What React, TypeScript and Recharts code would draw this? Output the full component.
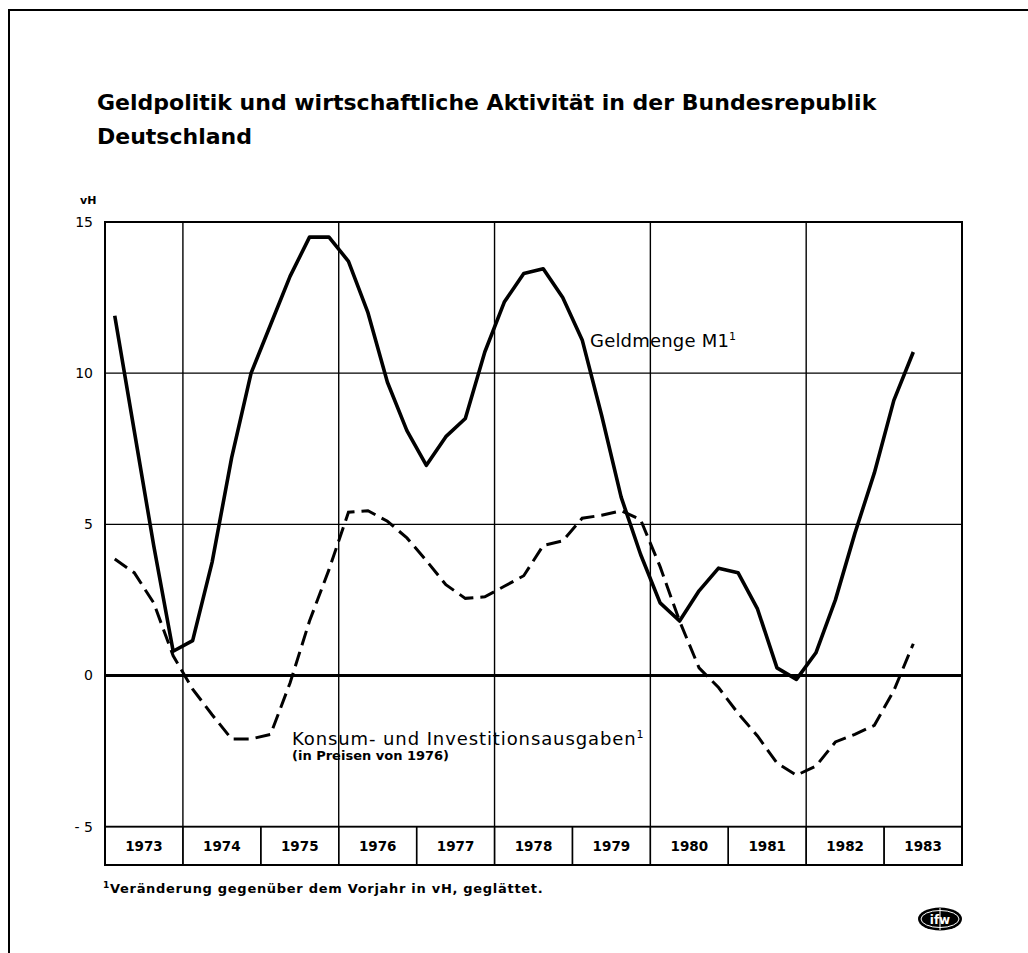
import React from 'react';
import { LineChart, Line, XAxis, YAxis, ReferenceLine, ReferenceArea } from 'recharts';

// quarter mid-points (1973 Q1 ... 1983 Q2)
const quarterTimes = [
  1973.125, 1973.375, 1973.625, 1973.875,
  1974.125, 1974.375, 1974.625, 1974.875,
  1975.125, 1975.375, 1975.625, 1975.875,
  1976.125, 1976.375, 1976.625, 1976.875,
  1977.125, 1977.375, 1977.625, 1977.875,
  1978.125, 1978.375, 1978.625, 1978.875,
  1979.125, 1979.375, 1979.625, 1979.875,
  1980.125, 1980.375, 1980.625, 1980.875,
  1981.125, 1981.375, 1981.625, 1981.875,
  1982.125, 1982.375, 1982.625, 1982.875,
  1983.125, 1983.375,
];

// Geldmenge M1, Veränderung gegenüber Vorjahr in vH
const geldmengeM1 = [
  11.9, 8.1, 4.3, 0.8,
  1.15, 3.75, 7.2, 10.0,
  11.6, 13.2, 14.5, 14.5,
  13.7, 12.0, 9.7, 8.1,
  6.95, 7.9, 8.5, 10.7,
  12.35, 13.3, 13.45, 12.5,
  11.1, 8.6, 5.9, 4.0,
  2.4, 1.8, 2.8, 3.55,
  3.4, 2.2, 0.25, -0.13,
  0.75, 2.5, 4.7, 6.7,
  9.1, 10.7,
];

// Konsum- und Investitionsausgaben (in Preisen von 1976)
const konsumInvest = [
  3.85, 3.4, 2.4, 0.65,
  -0.45, -1.3, -2.1, -2.1,
  -1.95, -0.25, 1.8, 3.5,
  5.4, 5.45, 5.1, 4.55,
  3.8, 3.0, 2.55, 2.6,
  2.95, 3.3, 4.3, 4.45,
  5.2, 5.3, 5.45, 5.15,
  3.6, 1.8, 0.25, -0.4,
  -1.25, -2.0, -2.9, -3.3,
  -3.0, -2.2, -1.95, -1.65,
  -0.5, 1.05,
];

const years = [1973, 1974, 1975, 1976, 1977, 1978, 1979, 1980, 1981, 1982, 1983];
const yearLabels = ['1973', '1974', '1975', '1976', '1977', '1978', '1979', '1980', '1981', '1982', '1983'];
const yTicks = [15, 10, 5, 0, -5];
const gridYears = [1974, 1976, 1978, 1980, 1982];
const gridValues = [10, 5];

const X_MIN = 1973;
const X_MAX = 1984;
const Y_TOP = 15;
const Y_AXIS_MIN = -5;
const Y_BAND = -6.27; // bottom of the year band

const data = quarterTimes.map((t, i) => ({ t, m1: geldmengeM1[i], konsum: konsumInvest[i] }));

const FONT = '"DejaVu Sans", sans-serif';

const Logo = () => (
  <svg width={50} height={28} style={{ position: 'absolute', left: 915, top: 905 }}>
    <ellipse cx={25} cy={14} rx={22} ry={11.5} fill="#000" />
    <ellipse cx={25} cy={14} rx={19} ry={8.5} fill="none" stroke="#fff" strokeWidth={1} />
    <line x1={25} y1={3} x2={25} y2={25} stroke="#fff" strokeWidth={1} />
    <text x={25} y={18.5} textAnchor="middle" fill="#fff" fontSize={12} fontWeight="bold" fontFamily={FONT}>ifw</text>
  </svg>
);

export default function App() {
  return (
    <div style={{ position: 'absolute', left: 0, top: 0, width: 1028, height: 953, background: '#fff', fontFamily: FONT, color: '#000' }}>
      <div style={{ position: 'absolute', left: 8, top: 9, width: 1020, height: 944, borderTop: '2px solid #000', borderLeft: '2px solid #000' }} />
      <div style={{ position: 'absolute', left: 97, top: 86, fontSize: 22, fontWeight: 'bold', lineHeight: '34px', whiteSpace: 'nowrap' }}>
        Geldpolitik und wirtschaftliche Aktivität in der Bundesrepublik
        <br />
        Deutschland
      </div>
      <div style={{ position: 'absolute', left: 80, top: 194, fontSize: 11, fontWeight: 'bold', lineHeight: '14px' }}>vH</div>

      <LineChart
        width={1028}
        height={953}
        data={data}
        margin={{ top: 222, right: 66, bottom: 88, left: 45 }}
        style={{ position: 'absolute', left: 0, top: 0 }}
      >
        <XAxis type="number" dataKey="t" domain={[X_MIN, X_MAX]} hide allowDataOverflow />
        <YAxis
          type="number"
          domain={[Y_BAND, Y_TOP]}
          ticks={yTicks}
          width={60}
          axisLine={false}
          tickLine={false}
          tickSize={0}
          tickMargin={12}
          allowDataOverflow
          tick={{ fill: '#000', fontSize: 14, fontFamily: FONT }}
          tickFormatter={(v: number) => (v < 0 ? '- ' + Math.abs(v) : String(v))}
        />
        {gridValues.map((v) => (
          <ReferenceLine key={'h' + v} y={v} stroke="#000" strokeWidth={1.3} />
        ))}
        <ReferenceLine y={Y_AXIS_MIN} stroke="#000" strokeWidth={1.6} />
        {gridYears.map((yr) => (
          <ReferenceLine
            key={'v' + yr}
            segment={[{ x: yr, y: Y_AXIS_MIN }, { x: yr, y: Y_TOP }]}
            stroke="#000"
            strokeWidth={1.4}
          />
        ))}
        {years.map((yr, i) => (
          <ReferenceArea
            key={'y' + yr}
            x1={yr}
            x2={yr + 1}
            y1={Y_BAND}
            y2={Y_AXIS_MIN}
            fill="none"
            stroke="#000"
            strokeWidth={1.4}
            label={{ value: yearLabels[i], position: 'center', fill: '#000', fontSize: 13.5, fontWeight: 'bold', fontFamily: FONT }}
          />
        ))}
        <ReferenceArea x1={X_MIN} x2={X_MAX} y1={Y_BAND} y2={Y_TOP} fill="none" stroke="#000" strokeWidth={2} />
        <ReferenceLine y={0} stroke="#000" strokeWidth={3} />
        <Line
          type="linear"
          dataKey="konsum"
          stroke="#000"
          strokeWidth={3}
          strokeDasharray="15 7"
          dot={false}
          isAnimationActive={false}
        />
        <Line
          type="linear"
          dataKey="m1"
          stroke="#000"
          strokeWidth={3.6}
          strokeLinejoin="round"
          dot={false}
          isAnimationActive={false}
        />
      </LineChart>

      <div style={{ position: 'absolute', left: 590, top: 326, fontSize: 18, lineHeight: '22px', whiteSpace: 'nowrap', letterSpacing: 0.2 }}>
        Geldmenge M1<sup style={{ fontSize: 11 }}>1</sup>
      </div>
      <div style={{ position: 'absolute', left: 292, top: 724, fontSize: 18, lineHeight: '22px', whiteSpace: 'nowrap', letterSpacing: 0.9 }}>
        Konsum- und Investitionsausgaben<sup style={{ fontSize: 11 }}>1</sup>
      </div>
      <div style={{ position: 'absolute', left: 292, top: 748, fontSize: 13, fontWeight: 'bold', lineHeight: '16px', whiteSpace: 'nowrap' }}>
        (in Preisen von 1976)
      </div>
      <div style={{ position: 'absolute', left: 103, top: 877, fontSize: 13, fontWeight: 'bold', lineHeight: '16px', whiteSpace: 'nowrap', letterSpacing: 0.7 }}>
        <sup style={{ fontSize: 9 }}>1</sup>Veränderung gegenüber dem Vorjahr in vH, geglättet.
      </div>
      <Logo />
    </div>
  );
}
